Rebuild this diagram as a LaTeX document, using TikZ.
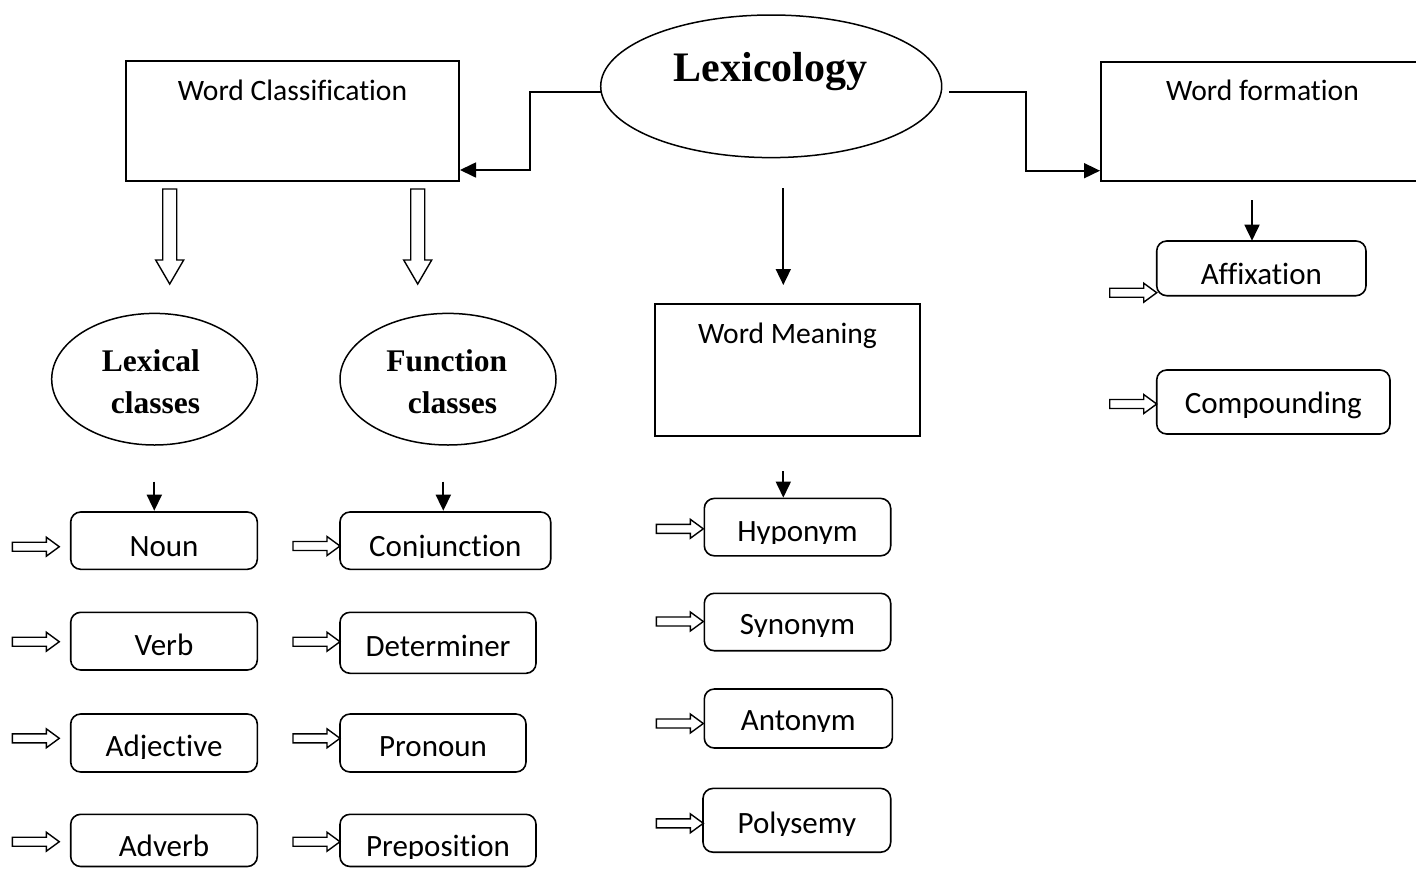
\documentclass[tikz,border=0pt]{standalone}
\usepackage{fontspec}
\setmainfont{Carlito}[Ligatures=NoCommon]
\newfontfamily\tnr{Liberation Serif}
\usetikzlibrary{arrows.meta,shapes.geometric,fit,calc}

\tikzset{
 rectbox/.style={draw, line width=1pt, inner sep=0pt},
 rbox/.style={draw, line width=0.8pt, rounded corners=5pt, inner sep=0pt},
 ell/.style={draw, ellipse, line width=0.75pt, inner sep=0pt},
 lbl/.style={anchor=base, inner sep=0pt, font=\fontsize{15.5pt}{18pt}\selectfont},
 tlbl/.style={anchor=base, inner sep=0pt, font=\fontsize{14.8pt}{18pt}\selectfont},
 elbl/.style={anchor=base, inner sep=0pt, font=\tnr\bfseries\fontsize{15.75pt}{18pt}\selectfont},
 arr/.style={line width=0.85pt, -{Triangle[length=8pt,width=7.5pt]}},
 hollow/.style={draw, line width=0.7pt, fill=white},
}

% rounded box with clipped label: name, x1,y1,x2,y2, text, baseline, clip y
\newcommand\rbx[8]{%
 \node[rbox, fit={(#2,#3) (#4,#5)}] (#1) {};
 \begin{scope}
 \clip (#2,#3) rectangle (#4,#8);
 \node[lbl] (#1-t) at (#1.center |- 0,#7) {#6};
 \end{scope}}

% hollow right arrow, tip at (#1,#2)
\newcommand\harr[2]{%
 \draw[hollow] (#1-47,#2-4.5) -- (#1-13,#2-4.5) -- (#1-13,#2-9.5) -- (#1,#2)
   -- (#1-13,#2+9.5) -- (#1-13,#2+4.5) -- (#1-47,#2+4.5) -- cycle;}

% hollow down arrow: centre x, top y, tip y
\newcommand\varr[3]{%
 \draw[hollow] (#1-7,#2) -- (#1+7,#2) -- (#1+7,#3-24) -- (#1+14,#3-24) -- (#1,#3)
   -- (#1-14,#3-24) -- (#1-7,#3-24) -- cycle;}

\begin{document}
\begin{tikzpicture}[x=0.5pt,y=-0.5pt]
\useasboundingbox (0,0) rectangle (1416,868);

% top level
\node[ell, minimum width=170.5pt, minimum height=71.3pt] (lex) at (771.2,86.3) {};
\node[anchor=base, inner sep=0pt, font=\tnr\bfseries\fontsize{21pt}{24pt}\selectfont] (lex-t) at (770.5,81.7) {Lexicology};

\node[rectbox, fit={(126,61) (459,181)}] (wc) {};
\node[tlbl] (wc-t) at (wc.center |- 0,100) {Word Classification};

\node[rectbox, fit={(1101,61.7) (1424,181)}] (wf) {};
\node[tlbl] (wf-t) at (1262.5,100) {Word formation};

\node[rectbox, fit={(655,304) (920,435.7)}] (wm) {};
\node[tlbl] (wm-t) at (wm.center |- 0,343.3) {Word Meaning};

% elbow connectors
\draw[arr] (600.7,91.7) -- (530,91.7) -- (530,170) -- (wc.east |- 0,170);
\draw[arr] (949.3,91.7) -- (1025.7,91.7) -- (1025.7,170.7) -- (wf.west |- 0,170.7);
\draw[arr] (783.3,188.3) -- (783.3,285);

% hollow down arrows
\varr{169.7}{189}{284}
\varr{417.7}{189}{284}

% class ellipses
\node[ell, minimum width=102.8pt, minimum height=65.8pt] (lexc) at (154.5,379.2) {};
\node[elbl] (lexc-t1) at (150.8,371.7) {Lexical};
\node[elbl] (lexc-t2) at (155.5,413) {classes};
\node[ell, minimum width=108pt, minimum height=65.8pt] (func) at (448,379.2) {};
\node[elbl] (func-t1) at (446.7,371.7) {Function};
\node[elbl] (func-t2) at (452.5,413) {classes};

% small down arrows
\draw[arr] (154.3,481.7) -- (154.3,510.7);
\draw[arr] (443.3,481.7) -- (443.3,510.7);
\draw[arr] (783.3,471.4) -- (783.3,497.6);
\draw[arr] (1252,200) -- (1252,240.7);

% lexical column
\rbx{noun}{70.7}{512}{257.3}{569.3}{Noun}{556}{569.3}
\rbx{verb}{70.7}{612.3}{257.3}{670}{Verb}{655}{670}
\rbx{adj}{70.7}{714}{257.3}{772}{Adjective}{756.7}{758.5}
\rbx{adv}{70.7}{814.3}{257.3}{866.5}{Adverb}{856.7}{858}
% function column
\rbx{conj}{340}{512}{550.7}{569.3}{Conjunction}{556}{557.5}
\rbx{det}{340}{612.3}{536}{673.3}{Determiner}{656}{673.3}
\rbx{pron}{340}{714}{526}{772}{Pronoun}{756.7}{772}
\rbx{prep}{340}{814.3}{536}{866.5}{Preposition}{856.7}{858}
% meaning column
\rbx{hypo}{704.3}{498.4}{890.7}{555.8}{Hyponym}{541.5}{543}
\rbx{syn}{704.3}{593.3}{890.7}{650.7}{Synonym}{634.6}{636}
\rbx{ant}{704.3}{689}{892.3}{748}{Antonym}{730}{731.5}
\rbx{poly}{703}{788.4}{890.7}{852.2}{Polysemy}{833.5}{835}
% formation column
\rbx{affix}{1156.7}{241}{1366}{295.7}{Affixation}{284}{295.7}
\rbx{comp}{1156.7}{370}{1390}{434}{Compounding}{413.3}{434}

% hollow right arrows
\harr{59.3}{546.7}
\harr{59.3}{641.7}
\harr{59.3}{738.3}
\harr{59.3}{841.7}
\harr{340}{546}
\harr{340}{641.7}
\harr{340}{738.3}
\harr{340}{841.7}
\harr{703.3}{528.8}
\harr{703.3}{621.5}
\harr{703.3}{723.5}
\harr{703.3}{823.3}
\harr{1156.7}{292.7}
\harr{1156.7}{404}
\end{tikzpicture}
\end{document}
